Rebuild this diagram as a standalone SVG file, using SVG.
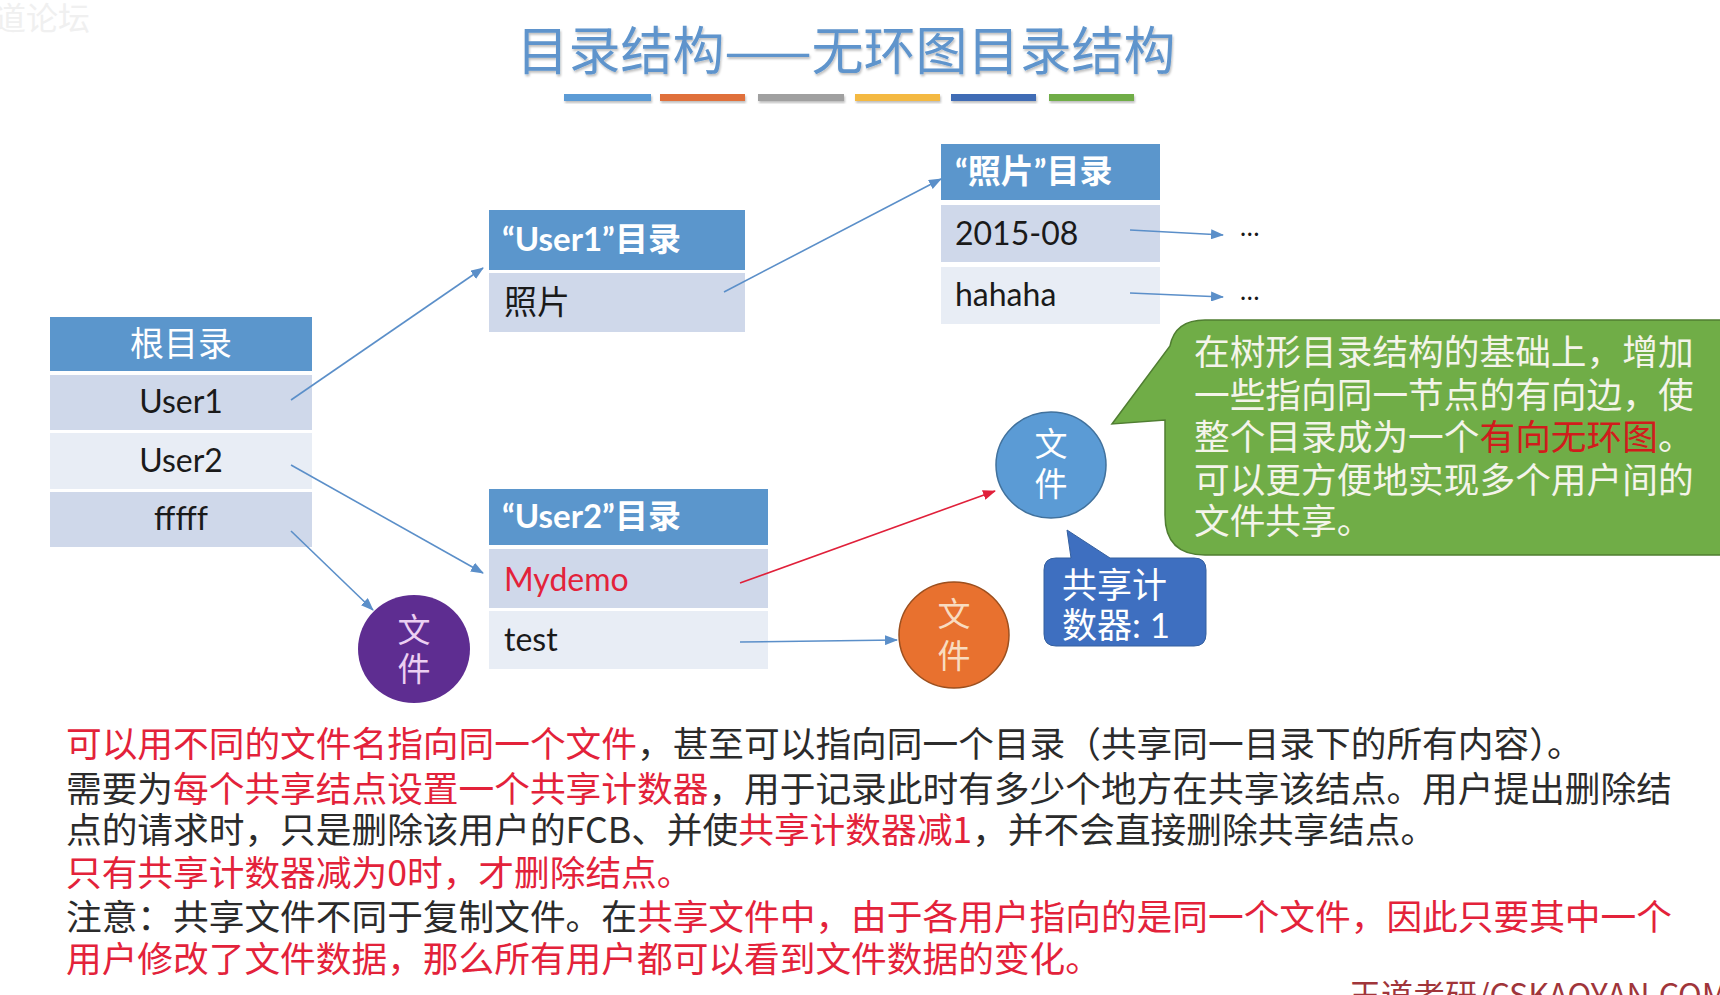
<svg xmlns="http://www.w3.org/2000/svg" width="1720" height="995" viewBox="0 0 1720 995">
<style>
.cjk{font-family:"Noto Sans CJK SC","Noto Sans",sans-serif}
.lat{font-family:Lato,"Noto Sans CJK SC",sans-serif}
.hdr{fill:#5b96cc}
.r1{fill:#cfd8ea}
.r2{fill:#e8edf5}
.ht{fill:#ffffff;font-size:33px;font-family:Lato,"Noto Sans CJK SC",sans-serif;font-weight:bold}
.rt{fill:#1a1a1a;font-size:32px;font-family:Lato,"Noto Sans CJK SC",sans-serif}
.body{font-family:"Noto Sans CJK SC",sans-serif;font-size:35.7px;fill:#2b2b2b}
.red{fill:#e3223a}
.conn{stroke:#5b8fc9;stroke-width:1.6;fill:none}
.bub{font-family:"Noto Sans CJK SC",sans-serif;font-size:35.7px;fill:#f4f4ea}
.ct{font-family:"Noto Sans CJK SC",sans-serif;font-size:33px;text-anchor:middle}
</style>
<defs>
<filter id="sh" x="-10%" y="-30%" width="120%" height="170%">
<feDropShadow dx="1" dy="2" stdDeviation="1.2" flood-color="#000" flood-opacity="0.25"/>
</filter>
<marker id="ab" markerWidth="13" markerHeight="10" refX="12" refY="5" orient="auto" markerUnits="userSpaceOnUse">
<path d="M0,0 L13,5 L0,10 z" fill="#5b8fc9"/>
</marker>
<marker id="ar" markerWidth="13" markerHeight="10" refX="12" refY="5" orient="auto" markerUnits="userSpaceOnUse">
<path d="M0,0 L13,5 L0,10 z" fill="#e0203a"/>
</marker>
</defs>
<rect width="1720" height="995" fill="#ffffff"/>
<text x="-6" y="30" class="cjk" font-size="32" fill="#f0f0f0">道论坛</text>

<g id="title">
<text x="846" y="70" class="cjk" font-size="52" fill="#5e94cc" text-anchor="middle" filter="url(#sh)">目录结构——无环图目录结构</text>
<g filter="url(#sh)">
<rect x="564" y="94" width="87" height="7" fill="#5b9bd5"/>
<rect x="660" y="94" width="85" height="7" fill="#e0703a"/>
<rect x="758" y="94" width="86" height="7" fill="#a0a0a0"/>
<rect x="855" y="94" width="85" height="7" fill="#f4b942"/>
<rect x="951" y="94" width="85" height="7" fill="#3f6cb5"/>
<rect x="1049" y="94" width="85" height="7" fill="#70ad47"/>
</g>
</g>

<g id="root">
<rect x="50" y="317" width="262" height="54" class="hdr"/>
<rect x="50" y="375" width="262" height="55" class="r1"/>
<rect x="50" y="433" width="262" height="56" class="r2"/>
<rect x="50" y="492" width="262" height="55" class="r1"/>
<text x="181" y="356" class="cjk" font-size="34" fill="#ffffff" text-anchor="middle">根目录</text>
<text x="181" y="413" class="rt" text-anchor="middle">User1</text>
<text x="181" y="472" class="rt" text-anchor="middle">User2</text>
<text x="181" y="530" class="rt" text-anchor="middle">fffff</text>
</g>

<g id="user1dir">
<rect x="489" y="210" width="256" height="60" class="hdr"/>
<rect x="489" y="273" width="256" height="59" class="r1"/>
<text x="502" y="251" class="ht">“User1”目录</text>
<text x="504" y="314" class="cjk" font-size="33" fill="#1a1a1a">照片</text>
</g>

<g id="photodir">
<rect x="941" y="144" width="219" height="56" class="hdr"/>
<rect x="941" y="205" width="219" height="57" class="r1"/>
<rect x="941" y="267" width="219" height="57" class="r2"/>
<text x="955" y="183" class="ht">“照片”目录</text>
<text x="955" y="245" class="rt">2015-08</text>
<text x="955" y="306" class="rt">hahaha</text>
<text x="1240" y="236" class="lat" font-size="26" fill="#1a1a1a">…</text>
<text x="1240" y="300" class="lat" font-size="26" fill="#1a1a1a">…</text>
</g>

<g id="user2dir">
<rect x="489" y="489" width="279" height="56" class="hdr"/>
<rect x="489" y="549" width="279" height="59" class="r1"/>
<rect x="489" y="611" width="279" height="58" class="r2"/>
<text x="502" y="528" class="ht">“User2”目录</text>
<text x="504" y="591" class="rt" style="fill:#e3223a">Mydemo</text>
<text x="504" y="651" class="rt">test</text>
</g>

<g id="file-blue">
<ellipse cx="1051" cy="465" rx="55" ry="53" fill="#5b9bd5" stroke="#41719c" stroke-width="1.5"/>
<text x="1051" y="456" class="ct" fill="#ffffff">文</text>
<text x="1051" y="496" class="ct" fill="#ffffff">件</text>
</g>

<g id="file-orange">
<ellipse cx="954" cy="635" rx="55" ry="53" fill="#e8712f" stroke="#9c4f1e" stroke-width="1.5"/>
<text x="954" y="626" class="ct" fill="#f8dcc0">文</text>
<text x="954" y="668" class="ct" fill="#f8dcc0">件</text>
</g>

<g id="file-purple">
<ellipse cx="414" cy="649" rx="56" ry="54" fill="#5e2d91"/>
<text x="414" y="642" class="ct" fill="#ecd0f2">文</text>
<text x="414" y="681" class="ct" fill="#ecd0f2">件</text>
</g>

<g id="counter-callout">
<path d="M1056,558 L1071,558 L1067,530 L1110,558 L1194,558 Q1206,558 1206,570 L1206,634 Q1206,646 1194,646 L1056,646 Q1044,646 1044,634 L1044,570 Q1044,558 1056,558 Z" fill="#3e6fc0" stroke="#35609f" stroke-width="1"/>
<text x="1062" y="598" class="cjk" font-size="35" fill="#ffffff">共享计</text>
<text x="1062" y="638" class="lat" font-size="35" fill="#ffffff">数器: 1</text>
</g>

<g id="note-callout">
<path d="M1205,320 L1740,320 L1740,555 L1205,555 Q1165,555 1165,515 L1165,420 L1112,424 L1170,346 Q1175,320 1205,320 Z" fill="#70ad47" stroke="#507e32" stroke-width="1.5"/>
<text x="1194" y="365" class="bub">在树形目录结构的基础上，增加</text>
<text x="1194" y="408" class="bub">一些指向同一节点的有向边，使</text>
<text x="1194" y="450" class="bub">整个目录成为一个<tspan fill="#d01c1c">有向无环图</tspan>。</text>
<text x="1194" y="493" class="bub">可以更方便地实现多个用户间的</text>
<text x="1194" y="534" class="bub">文件共享。</text>
</g>

<g id="connectors">
<line x1="291" y1="400" x2="483" y2="268" class="conn" marker-end="url(#ab)"/>
<line x1="291" y1="465" x2="483" y2="573" class="conn" marker-end="url(#ab)"/>
<line x1="291" y1="531" x2="373" y2="610" class="conn" marker-end="url(#ab)"/>
<line x1="724" y1="292" x2="941" y2="179" class="conn" marker-end="url(#ab)"/>
<line x1="1130" y1="230" x2="1223" y2="235" class="conn" marker-end="url(#ab)"/>
<line x1="1130" y1="293" x2="1223" y2="297" class="conn" marker-end="url(#ab)"/>
<line x1="740" y1="583" x2="995" y2="491" stroke="#e0203a" stroke-width="1.6" marker-end="url(#ar)"/>
<line x1="740" y1="642" x2="897" y2="640" class="conn" marker-end="url(#ab)"/>
</g>

<g id="body-text">
<text x="66" y="757" class="body"><tspan class="red">可以用不同的文件名指向同一个文件</tspan>，甚至可以指向同一个目录（共享同一目录下的所有内容）。</text>
<text x="66" y="802" class="body">需要为<tspan class="red">每个共享结点设置一个共享计数器</tspan>，用于记录此时有多少个地方在共享该结点。用户提出删除结</text>
<text x="66" y="843" class="body">点的请求时，只是删除该用户的FCB、并使<tspan class="red">共享计数器减1</tspan>，并不会直接删除共享结点。</text>
<text x="66" y="886" class="body red">只有共享计数器减为0时，才删除结点。</text>
<text x="66" y="930" class="body">注意：共享文件不同于复制文件。在<tspan class="red">共享文件中，由于各用户指向的是同一个文件，因此只要其中一个</tspan></text>
<text x="66" y="972" class="body red">用户修改了文件数据，那么所有用户都可以看到文件数据的变化。</text>
<text x="1349" y="1007" class="cjk" font-size="32" fill="#a0353a">王道考研/CSKAOYAN.COM</text>
</g>
</svg>
